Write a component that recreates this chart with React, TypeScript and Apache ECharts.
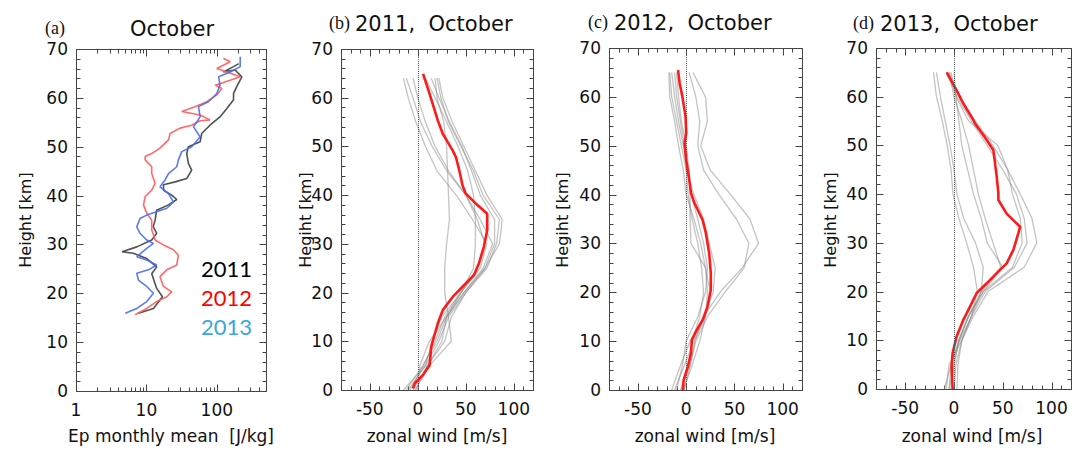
import React, { useEffect, useRef } from "react";
import * as echarts from "echarts";

// ---------- Panel (a): Ep monthly mean (J/kg) vs height (km) ----------
const ep2011 = [7.7, 12.6, 16.9, 14, 11.9, 14, 10.1, 6.5, 4.5, 7.3, 11.9, 14, 12.5, 13.3, 14, 20.6, 27, 22.9, 17.5, 17.5, 25.6, 37.4, 44, 39.5, 37.4, 39.5, 58, 61, 80, 111, 139, 173, 173, 192, 227, 182, 124, 173, 205];
const h2011 = [15.9, 16.9, 19.3, 21, 24, 25.4, 27.1, 28.2, 28.5, 29.5, 30.9, 32.3, 33.6, 35, 37, 38.1, 39.2, 40.1, 41.1, 42.2, 42.8, 43.5, 45.2, 46.6, 48.6, 50, 51, 52.7, 54.4, 56.1, 57.8, 59.6, 60.9, 62.3, 64.3, 65.7, 65.3, 66.4, 67];

const ep2012 = [6.9, 10.1, 14, 19.5, 22.9, 17.5, 15.6, 19.5, 27, 28.5, 24.2, 17.5, 13.3, 11.9, 11.9, 10.1, 9.1, 9.6, 11.9, 13.3, 11.9, 11.9, 9.6, 9.6, 11.9, 15.6, 20.6, 21.7, 30, 44, 58, 80, 58, 31.8, 49, 72, 100, 118, 95, 155, 215, 139, 100, 155, 124];
const h2012 = [15.6, 16.9, 18.3, 19.3, 20.3, 21.4, 23.4, 24.8, 25.8, 27.8, 28.9, 29.9, 30.9, 33, 35, 36.4, 38.1, 39.8, 41.1, 42.5, 44.5, 45.9, 47.3, 48, 48.6, 49.7, 51.4, 52.7, 53.8, 54.4, 55.3, 55.5, 56.5, 57.2, 58.2, 59.2, 60.6, 61.9, 62.6, 63.6, 64.3, 65.3, 66, 67.4, 68.1];

const ep2013 = [5, 7.3, 10.1, 12.6, 10.1, 7.7, 7.3, 10.7, 14, 10.1, 7.3, 10.1, 12.6, 10.1, 8.1, 7.3, 8.1, 10.1, 14, 19.5, 24.2, 20.6, 15.6, 18.4, 20.6, 27, 28.5, 31.8, 44, 58, 46.6, 58, 54.9, 76, 100, 111, 106, 155, 215, 215];
const h2013 = [15.9, 16.9, 18.3, 20, 21.4, 22.7, 24.1, 24.8, 25.8, 26.8, 27.5, 29.2, 30.2, 30.9, 32.3, 33.6, 35.3, 36, 36.7, 37.4, 38.7, 40.4, 41.8, 43.2, 44.5, 45.9, 47.3, 49, 50, 52, 54.1, 56.1, 58.2, 59.2, 60.9, 62.6, 64.3, 65.3, 66.4, 68.4];

const yearLabels = ["2011", "2012", "2013"];
const logMajorTicks = [1, 10, 100];
const logMinorTicks = [2, 3, 4, 5, 6, 7, 8, 9, 20, 30, 40, 50, 60, 70, 80, 90, 200, 300, 400];

// ---------- Panels (b)-(d): zonal wind (m/s) vs height (km) ----------
const windMajorTicks = [-50, 0, 50, 100];
const heightMajorTicks = [0, 10, 20, 30, 40, 50, 60, 70];

// (b) 2011
const redB = [-5, -3, 5.5, 12.3, 14, 15.8, 20.9, 26, 36.3, 46.6, 58.6, 63.7, 68.8, 72.3, 72.3, 60.3, 50, 46.6, 43.2, 39.7, 36.3, 26, 20.9, 12.3, 5.5];
const redBh = [0.3, 1.4, 3.1, 5.1, 8.9, 10.2, 13.7, 16.4, 19.1, 21.2, 23.6, 26, 29.4, 32.8, 36.2, 38.3, 40.3, 42, 45.1, 47.8, 49.2, 52.6, 55.3, 60.8, 64.9];
const grayBh = [64, 60, 55, 50, 45, 40, 35, 30, 25, 20, 15, 10, 5, 0];
const grayB1 = [-15, -10, -2, 8, 20, 40, 57, 72, 65, 45, 25, 15, 8, -10];
const grayB2 = [-12, -5, 3, 15, 30, 50, 62, 70, 62, 45, 28, 18, 6, -8];
const grayB3 = [20, 24, 32, 45, 58, 68, 85, 82, 72, 50, 32, 22, 8, -15];
const grayB4 = [22, 26, 36, 48, 60, 72, 88, 85, 70, 48, 30, 25, 10, -5];
const grayB5 = [18, 20, 27, 30, 31, 32, 33, 30, 28, 28, 32, 35, 12, -3];
const grayB6 = [8, 18, 30, 42, 52, 58, 60, 60, 58, 45, 30, 20, 5, -12];
const grayB7 = [-5, 0, 8, 18, 32, 50, 65, 78, 68, 48, 30, 12, 2, 0];
const grayB8 = [14, 22, 33, 46, 56, 65, 80, 80, 70, 50, 35, 28, 10, -2];

// (c) 2012
const redC = [-3.4, -2.7, 1.7, 5, 5.8, 10.2, 17, 22, 25.5, 25.5, 23.8, 20.4, 17, 11.9, 8.5, 5, 2.7, 0, -1.7, 0, -0.7, -4, -6.8, -8.5];
const redCh = [0, 2, 4.8, 7.5, 10.2, 12, 14.3, 17, 20.5, 23.9, 28, 32.1, 34.8, 36.9, 38.3, 40.3, 43.7, 47.1, 50.5, 52.6, 56, 60.1, 62.8, 65.5];
const grayCh = [65, 60, 55, 50, 45, 40, 35, 30, 25, 20, 15, 10, 5, 0];
const grayC1 = [7, 20, 22, 15, 25, 46, 66, 75, 58, 35, 18, 9, 4, -2];
const grayC2 = [3, 10, 14, 12, 18, 34, 52, 65, 60, 40, 22, 10, 4, -6];
const grayC3 = [-17, -15, -10, -5, 0, 8, 18, 24, 30, 28, 18, 4, -6, -15];
const grayC4 = [-15, -12, -8, -3, 2, 5, 12, 18, 22, 20, 12, 0, -4, -10];
const grayC5 = [-12, -10, -6, -2, 0, 2, 6, 12, 16, 18, 14, 6, 2, -5];
const grayC6 = [-18, -17, -12, -8, -3, 0, 8, 15, 20, 22, 20, 14, 6, -3];
const grayC7 = [-10, -8, -5, 0, 3, 4, 4, 5, 20, 25, 20, 8, -2, -12];

// (d) 2013
const redD = [-1.4, -2.4, -1.4, 2.7, 9.6, 16.4, 23.3, 33.6, 43.8, 54, 61, 66, 67.8, 54, 45.5, 45.5, 43.8, 40.4, 33.6, 21.6, 19.9, 9.6, 2.7, -7.5];
const redDh = [0, 4.6, 7.4, 10.8, 14.2, 16.9, 19.7, 21.7, 23.8, 25.8, 28.6, 32, 33.3, 36, 38.8, 40.2, 43.6, 49, 51.1, 54.5, 55.2, 58.6, 61.3, 65];
const grayDh = [65, 60, 55, 50, 45, 40, 35, 30, 25, 20, 15, 10, 5, 0];
const grayD1 = [-21, -18, -12, -7, -3, -1, 5, 13, 20, 24, 18, 8, -5, -8];
const grayD2 = [-18, -14, -9, -4, 0, 3, 10, 22, 30, 28, 18, 6, -3, -5];
const grayD3 = [-5, 5, 22, 40, 55, 68, 80, 85, 72, 35, 20, 8, 4, 3];
const grayD4 = [-8, 3, 18, 34, 50, 64, 72, 75, 62, 32, 18, 8, 2, 0];
const grayD5 = [-3, 2, 15, 45, 55, 60, 68, 70, 60, 30, 15, 5, 0, -3];
const grayD6 = [-5, 0, 8, 15, 20, 25, 32, 40, 48, 28, 15, 5, -3, -10];
const grayD7 = [0, 2, 5, 8, 14, 20, 28, 34, 50, 30, 15, 5, 0, -5];

const panelTitles = ["October", "2011,  October", "2012,  October", "2013,  October"];
const panelLetters = ["(a)", "(b)", "(c)", "(d)"];

const zip = (xs: number[], ys: number[]) => xs.map((x, i) => [x, ys[i]]);

const FONT = "DejaVu Sans";
const AXIS_COLOR = "#444";

const grids = [
  { left: 76, top: 49, width: 190, height: 342 },
  { left: 341, top: 49, width: 192, height: 341 },
  { left: 609, top: 48, width: 193, height: 342 },
  { left: 876, top: 48, width: 195, height: 341 },
];

// minor tick values (every 2 km in height, every 10 m/s in wind)
const heightMinorTicks: number[] = [];
for (let v = 0; v <= 70; v += 2) if (v % 10 !== 0) heightMinorTicks.push(v);
const windMinorTicks: number[] = [];
for (let v = -80; v <= 120; v += 10) if (!windMajorTicks.includes(v)) windMinorTicks.push(v);

function xAxisFor(i: number, showLabel: boolean) {
  const common = {
    gridIndex: 0,
    position: "bottom",
    splitLine: { show: false },
    axisLine: { show: false, onZero: false },
    axisTick: { show: false },
  };
  if (i === 0) {
    return {
      ...common,
      type: "log",
      logBase: 10,
      min: 1,
      max: 500,
      axisLabel: {
        show: showLabel,
        fontFamily: FONT,
        fontSize: 17,
        color: "#111",
        margin: 10,
        formatter: (v: number) => (logMajorTicks.includes(Math.round(v)) ? String(Math.round(v)) : ""),
      },
    };
  }
  return {
    ...common,
    type: "value",
    min: -80,
    max: 120,
    axisLabel: { show: showLabel, customValues: windMajorTicks, fontFamily: FONT, fontSize: 17, color: "#111", margin: 10 },
  };
}

function yAxisFor(showLabel: boolean) {
  return {
    type: "value",
    min: 0,
    max: 70,
    interval: 10,
    gridIndex: 0,
    position: "left",
    splitLine: { show: false },
    axisLine: { show: false, onZero: false },
    axisTick: { show: false },
    axisLabel: { show: showLabel, fontFamily: FONT, fontSize: 17, color: "#111", margin: 8 },
  };
}

// ---- frame layer: box + inside ticks drawn by a custom series on the panel's own axes ----
function frameOption(i: number) {
  const isLog = i === 0;
  const xMajor = isLog ? logMajorTicks : windMajorTicks;
  const xMinor = isLog ? logMinorTicks : windMinorTicks;
  const xRef = isLog ? 10 : 0;
  return {
    animation: false,
    grid: [{ ...grids[i] }],
    xAxis: [xAxisFor(i, false)],
    yAxis: [yAxisFor(false)],
    series: [
      {
        type: "custom",
        xAxisIndex: 0,
        yAxisIndex: 0,
        silent: true,
        clip: false,
        z: 3,
        data: [[xRef, 0]],
        renderItem: (params: any, api: any) => {
          const cs = params.coordSys;
          const L = Math.round(cs.x) + 0.5;
          const R = Math.round(cs.x + cs.width) + 0.5;
          const T = Math.round(cs.y) + 0.5;
          const B = Math.round(cs.y + cs.height) + 0.5;
          const children: any[] = [];
          const st = { stroke: AXIS_COLOR, lineWidth: 1, fill: null };
          const seg = (x1: number, y1: number, x2: number, y2: number) =>
            children.push({ type: "line", shape: { x1, y1, x2, y2 }, style: st, silent: true });
          seg(L, T, R, T);
          seg(R, T, R, B);
          seg(R, B, L, B);
          seg(L, B, L, T);
          const xt = (v: number, len: number) => {
            const px = Math.round(api.coord([v, 0])[0]) + 0.5;
            seg(px, B, px, B - len);
            seg(px, T, px, T + len);
          };
          const yt = (v: number, len: number) => {
            const py = Math.round(api.coord([xRef, v])[1]) + 0.5;
            seg(L, py, L + len, py);
            seg(R, py, R - len, py);
          };
          xMajor.forEach((v) => xt(v, 7));
          xMinor.forEach((v) => xt(v, 4));
          heightMajorTicks.forEach((v) => yt(v, 7));
          heightMinorTicks.forEach((v) => yt(v, 4));
          return { type: "group", children };
        },
      },
    ],
  };
}

// ---- data layers: labels + series ----
const line = (data: number[][], color: string, width: number, opacity = 1, z = 2) => ({
  type: "line",
  xAxisIndex: 0,
  yAxisIndex: 0,
  data,
  showSymbol: false,
  symbol: "none",
  z,
  lineStyle: { color, width, opacity },
  silent: true,
});

function panelAOption() {
  return {
    animation: false,
    grid: [{ ...grids[0] }],
    xAxis: [xAxisFor(0, true)],
    yAxis: [yAxisFor(true)],
    series: [
      line(zip(ep2011, h2011), "#333333", 1.6, 0.85),
      line(zip(ep2012, h2012), "#ff5a5a", 1.6, 0.9),
      line(zip(ep2013, h2013), "#4a6cf5", 1.6, 0.9),
    ],
  };
}

function windPanelOption(gi: number, red: number[][], grays: number[][], gh: number[]) {
  const series: any[] = grays.map((gv) => line(zip(gv, gh), "#8a8a8a", 1.3, 0.5, 2));
  const r: any = line(red, "#ff1a1a", 2.6, 1, 4);
  r.markLine = {
    silent: true,
    symbol: "none",
    label: { show: false },
    lineStyle: { color: "#555", type: "dotted", width: 1 },
    data: [{ xAxis: 0 }],
  };
  series.push(r);
  return {
    animation: false,
    grid: [{ ...grids[gi] }],
    xAxis: [xAxisFor(gi, true)],
    yAxis: [yAxisFor(true)],
    series,
  };
}

// ---- texts + frame rectangles ----
function textOption() {
  const graphic: any[] = [];
  grids.forEach((g) => {
    graphic.push({
      type: "rect",
      shape: { x: g.left + 0.5, y: g.top + 0.5, width: g.width, height: g.height },
      style: { fill: "none", stroke: AXIS_COLOR, lineWidth: 1 },
    });
  });
  const titleLeft = [130, 355, 614, 880];
  const titleY = [29, 24, 23, 24];
  const letterLeft = [45, 329, 588, 853];
  panelTitles.forEach((t, i) => {
    graphic.push({ type: "text", x: titleLeft[i], y: titleY[i], style: { text: t, fontFamily: FONT, fontSize: 21, fill: "#111", verticalAlign: "middle" } });
    graphic.push({ type: "text", x: letterLeft[i], y: titleY[i] - 1, style: { text: panelLetters[i], fontFamily: "Liberation Serif", fontSize: 18, fill: "#111", verticalAlign: "middle" } });
  });
  [25, 305, 562, 830].forEach((x, i) => {
    graphic.push({
      type: "text",
      x,
      y: 220,
      rotation: Math.PI / 2,
      style: { text: i === 0 ? "Height [km]" : "Hegiht [km]", fontFamily: FONT, fontSize: 16, fill: "#111", align: "center", verticalAlign: "middle" },
    });
  });
  [171, 437, 705, 972].forEach((x, i) => {
    graphic.push({
      type: "text",
      x,
      y: 436,
      style: { text: i === 0 ? "Ep monthly mean  [J/kg]" : "zonal wind [m/s]", fontFamily: FONT, fontSize: 17, fill: "#111", align: "center", verticalAlign: "middle" },
    });
  });
  const yearColors = ["#000000", "#ff0000", "#3aa6dc"];
  const yearY = [268, 297, 326];
  yearLabels.forEach((t, i) => {
    graphic.push({ type: "text", x: 201, y: yearY[i], style: { text: t, fontFamily: "Lato", fontSize: 22, fill: yearColors[i], verticalAlign: "middle" } });
  });
  return { animation: false, graphic };
}

function buildOptions() {
  return [
    textOption(),
    frameOption(0),
    frameOption(1),
    frameOption(2),
    frameOption(3),
    panelAOption(),
    windPanelOption(1, zip(redB, redBh), [grayB1, grayB2, grayB3, grayB4, grayB5, grayB6, grayB7, grayB8], grayBh),
    windPanelOption(2, zip(redC, redCh), [grayC1, grayC2, grayC3, grayC4, grayC5, grayC6, grayC7], grayCh),
    windPanelOption(3, zip(redD, redDh), [grayD1, grayD2, grayD3, grayD4, grayD5, grayD6, grayD7], grayDh),
  ];
}

const LAYERS = 9;

export default function App() {
  const holder = useRef<HTMLDivElement>(null);
  useEffect(() => {
    const root = holder.current;
    if (!root) return;
    const opts = buildOptions();
    const charts: any[] = [];
    const layers = Array.from(root.children) as HTMLDivElement[];
    layers.forEach((el, i) => {
      const c = echarts.init(el, undefined, { renderer: "svg" });
      try {
        c.setOption(opts[i] as any);
      } catch (e) {
        // keep the other layers drawing
      }
      charts.push(c);
    });
    return () => charts.forEach((c) => c.dispose());
  }, []);
  return (
    <div ref={holder} style={{ position: "absolute", left: 0, top: 0, width: 1081, height: 450, background: "#fff" }}>
      {Array.from({ length: LAYERS }).map((_, i) => (
        <div key={i} style={{ position: "absolute", left: 0, top: 0, width: 1081, height: 450 }} />
      ))}
    </div>
  );
}
